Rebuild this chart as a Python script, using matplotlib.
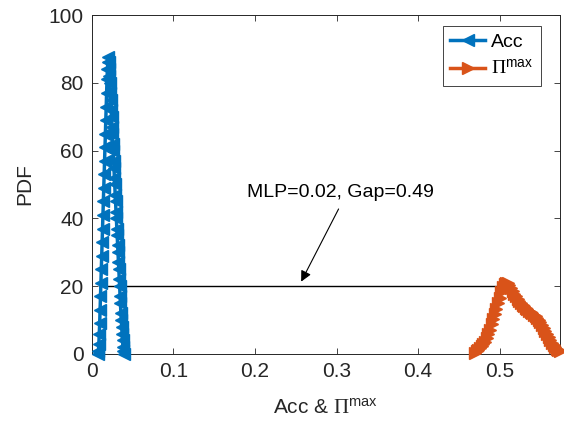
import matplotlib
matplotlib.use("Agg")
import matplotlib.pyplot as plt
from matplotlib.lines import Line2D

plt.rcParams['font.family'] = ['Liberation Sans', 'DejaVu Sans']
plt.rcParams['mathtext.fontset'] = 'custom'
plt.rcParams['mathtext.rm'] = 'Liberation Serif'
plt.rcParams['mathtext.sf'] = 'Liberation Sans'
plt.rcParams['mathtext.it'] = 'Liberation Serif:italic'

# ---- data ----
acc_x = [0.0075, 0.0080, 0.0085, 0.0090, 0.0095, 0.0100, 0.0105, 0.0110, 0.0115, 0.0120,
         0.0125, 0.0130, 0.0135, 0.0140, 0.0145, 0.0150, 0.0155, 0.0160, 0.0165, 0.0170,
         0.0175, 0.0180, 0.0185, 0.0190, 0.0195, 0.0200,
         0.0205, 0.0210, 0.0215, 0.0220, 0.0225, 0.0230, 0.0235, 0.0240, 0.0245, 0.0250,
         0.0255, 0.0260, 0.0265, 0.0270, 0.0275, 0.0280, 0.0285, 0.0290, 0.0295, 0.0300,
         0.0305, 0.0310, 0.0315, 0.0320, 0.0325, 0.0330, 0.0335, 0.0340, 0.0345, 0.0350,
         0.0355, 0.0360, 0.0365, 0.0370, 0.0375, 0.0380, 0.0385, 0.0390]
acc_pdf = [0, 1, 3, 6, 9, 13, 17, 21, 25, 29,
           33, 37, 41, 45, 49, 53, 57, 61, 65, 69,
           73, 77, 81, 84, 86, 87.5,
           86, 84, 82, 80, 77, 75, 72, 70, 67, 65,
           62, 60, 57, 55, 52, 50, 47, 45, 42, 40,
           37, 35, 32, 30, 27, 25, 22, 20, 17, 15,
           12, 10, 8, 6, 4, 2, 1, 0]

pi_x = [0.470, 0.472, 0.474, 0.476, 0.478, 0.480, 0.482, 0.484, 0.486, 0.488,
        0.490, 0.492, 0.494, 0.496, 0.498, 0.500, 0.502, 0.504, 0.506, 0.508,
        0.510, 0.512, 0.514, 0.516, 0.518, 0.520, 0.522, 0.524, 0.526, 0.528,
        0.530, 0.532, 0.534, 0.536, 0.538, 0.540, 0.542, 0.544, 0.546, 0.548,
        0.550, 0.552, 0.554, 0.556, 0.558, 0.560, 0.562, 0.564, 0.566, 0.568,
        0.570, 0.572, 0.574]
pi_pdf = [0.3, 0.8, 1.3, 1.8, 2.3, 2.9, 3.6, 4.6, 5.8, 7.2,
          8.7, 10.2, 11.8, 13.4, 15.0, 16.6, 18.2, 19.6, 20.6, 21.0,
          20.8, 20.2, 19.4, 18.6, 17.8, 17.0, 16.3, 15.6, 15.0, 14.5,
          14.0, 13.6, 13.2, 12.8, 12.4, 12.0, 11.6, 11.2, 10.7, 10.1,
          9.4, 8.6, 7.7, 6.8, 5.9, 5.0, 4.1, 3.3, 2.6, 2.0,
          1.5, 1.1, 0.8]

gap_x = [0.02, 0.51]
gap_y = [20, 20]

xticks = [0, 0.1, 0.2, 0.3, 0.4, 0.5]
xticklabels = ['0', '0.1', '0.2', '0.3', '0.4', '0.5']
yticks = [0, 20, 40, 60, 80, 100]
yticklabels = ['0', '20', '40', '60', '80', '100']

blue = '#0072BD'
orange = '#D95319'
axc = '#262626'

fig = plt.figure(figsize=(5.64, 4.29), dpi=100)
ax = fig.add_axes([0.163, 0.175, 0.830, 0.790])

ax.plot(gap_x, gap_y, color='k', lw=1.0, zorder=1)
ax.plot(acc_x, acc_pdf, color=blue, lw=2.5, marker='<', markersize=8, zorder=3, clip_on=False)
ax.plot(pi_x, pi_pdf, color=orange, lw=2.5, marker='>', markersize=8, zorder=3, clip_on=False)

ax.annotate('', xy=(0.255, 20.6), xytext=(0.304, 43.5),
            arrowprops=dict(arrowstyle='-|>', color='k', lw=0.8, mutation_scale=16))
ax.text(0.19, 47.5, 'MLP=0.02, Gap=0.49', fontsize=14, va='center', ha='left', color='k')

ax.set_xlim(0, 0.574)
ax.set_ylim(0, 100)
ax.set_xticks(xticks)
ax.set_xticklabels(xticklabels)
ax.set_yticks(yticks)
ax.set_yticklabels(yticklabels)
ax.tick_params(direction='in', top=True, right=True, length=4, width=0.6,
               labelsize=15, colors=axc, pad=6)
for s in ax.spines.values():
    s.set_color(axc)
    s.set_linewidth(0.7)

ax.set_xlabel('Acc & $\\mathrm{\\Pi}^{\\mathsf{max}}$', fontsize=15, color=axc, labelpad=12)
ax.set_ylabel('PDF', fontsize=15, color=axc, labelpad=10)

handles = [Line2D([], [], color=blue, lw=2.5, marker='<', markersize=8),
           Line2D([], [], color=orange, lw=2.5, marker='>', markersize=8)]
leg = ax.legend(handles, ['Acc', '$\\mathrm{\\Pi}^{\\mathsf{max}}$'], loc='upper right',
                bbox_to_anchor=(0.959, 0.968), borderaxespad=0, fontsize=14,
                fancybox=False, edgecolor=axc, handlelength=1.8, handletextpad=0.3,
                borderpad=0.4, labelspacing=0.4, framealpha=1)
leg.get_frame().set_linewidth(0.6)

fig.savefig('out.png', dpi=100)
